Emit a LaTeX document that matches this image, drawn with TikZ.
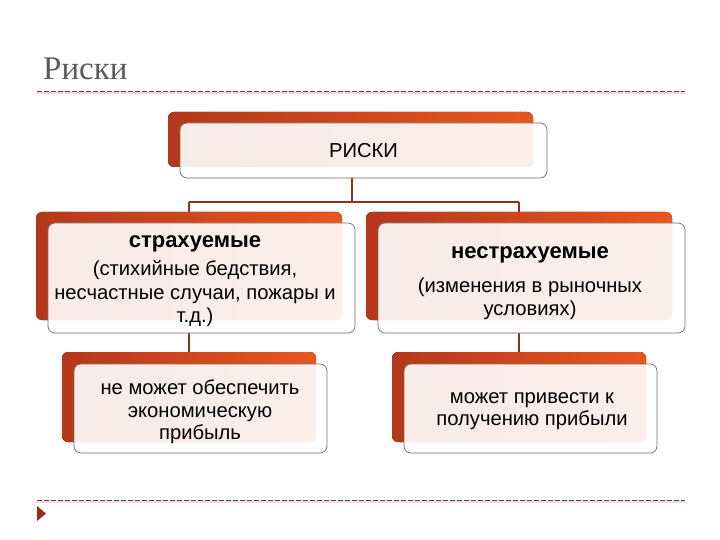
\documentclass[tikz,border=0pt]{standalone}
\usepackage{fontspec}
\setmainfont{Liberation Sans}
\newfontfamily\titlefont{Liberation Serif}
\usetikzlibrary{calc}
\pgfdeclarelayer{background}
\pgfsetlayers{background,main}
\definecolor{backL}{HTML}{B5381A}
\definecolor{backR}{HTML}{E8561E}
\definecolor{conncol}{HTML}{8A321A}
\definecolor{framecol}{HTML}{7A6A66}
\definecolor{titlegray}{HTML}{5A5A5A}
\definecolor{dashpink}{HTML}{F6D6DE}
\definecolor{markred}{HTML}{A3261C}
\tikzset{
  backbox/.style={left color=backL, right color=backR, rounded corners=6pt},
  frontbox/.style={draw=framecol, line width=0.7pt, fill=white, fill opacity=0.9, text opacity=1,
    rounded corners=7pt, align=center, inner sep=0pt, text=black,
    font=\fontsize{20.2}{23}\selectfont},
  conn/.style={draw=conncol, line width=1.6pt},
  rule/.style={draw=black!70, line width=0.8pt, dash pattern=on 5pt off 2pt},
  ruleshadow/.style={draw=dashpink, line width=3pt},
}
\begin{document}
\begin{tikzpicture}[x=1pt,y=-1pt]
\useasboundingbox (0,0) rectangle (720,540);
% title
\node[anchor=base west, inner sep=0pt, text=titlegray, font=\titlefont\fontsize{33}{33}\selectfont] (title) at (43,80) {Риски};
\draw[ruleshadow] (37,92.5) -- (685,92.5);
\draw[rule] (37,91) -- (685,91);
\draw[ruleshadow] (37,501.5) -- (685,501.5);
\draw[rule] (37,500) -- (685,500);
\fill[markred] (37,506) -- (46,513.5) -- (37,521) -- cycle;
% back boxes
\fill[backbox] (168,112) rectangle (533,167);
\fill[backbox] (36,212) rectangle (342,320);
\fill[backbox] (366,212) rectangle (672,320);
\fill[backbox] (62,352) rectangle (316,442);
\fill[backbox] (392,352) rectangle (646,442);
% front boxes
\node[frontbox, minimum width=367pt, minimum height=55pt] (risk) at (363.5,150.5) {РИСКИ};
\node[frontbox, minimum width=307pt, minimum height=110pt] (ins) at (201.5,278) {};
\node[align=center, inner sep=0pt, font=\fontsize{20.2}{23.5}\selectfont] (instext) at (195,281)
  {{\fontsize{22}{23.5}\selectfont\bfseries страхуемые}\\[5pt]
   (стихийные бедствия,\\несчастные случаи, пожары и\\т.д.)};
\node[frontbox, minimum width=307pt, minimum height=110pt] (unins) at (531.5,278) {};
\node[align=center, inner sep=0pt, font=\fontsize{20.2}{23}\selectfont] (uninstext) at (530,283)
  {{\fontsize{22}{23}\selectfont\bfseries нестрахуемые}\\[11pt]
   (изменения в рыночных\\условиях)};
\node[frontbox, minimum width=253pt, minimum height=89pt] (noprofit) at (200.5,408.5) {};
\node[align=center, inner sep=0pt, font=\fontsize{20.2}{22.5}\selectfont] (noprofittext) at (200,412)
  {не может обеспечить\\экономическую\\прибыль};
\node[frontbox, minimum width=253pt, minimum height=89pt] (profit) at (530.5,408.5) {};
\node[align=center, inner sep=0pt, font=\fontsize{20.2}{22.5}\selectfont] (profittext) at (532,411)
  {может привести к\\получению прибыли};
% connectors
\coordinate (jt) at (352,202);
\coordinate (jl) at (189,202);
\coordinate (jr) at (519,202);
\begin{pgfonlayer}{background}
\draw[conn] (risk.south -| jt) -- (jt);
\draw[conn] (jl) -- (jr);
\draw[conn] (jl) -- (ins.north -| jl);
\draw[conn] (jr) -- (unins.north -| jr);
\draw[conn] (ins.south -| jl) -- (noprofit.north -| jl);
\draw[conn] (unins.south -| jr) -- (profit.north -| jr);
\end{pgfonlayer}
\end{tikzpicture}
\end{document}
